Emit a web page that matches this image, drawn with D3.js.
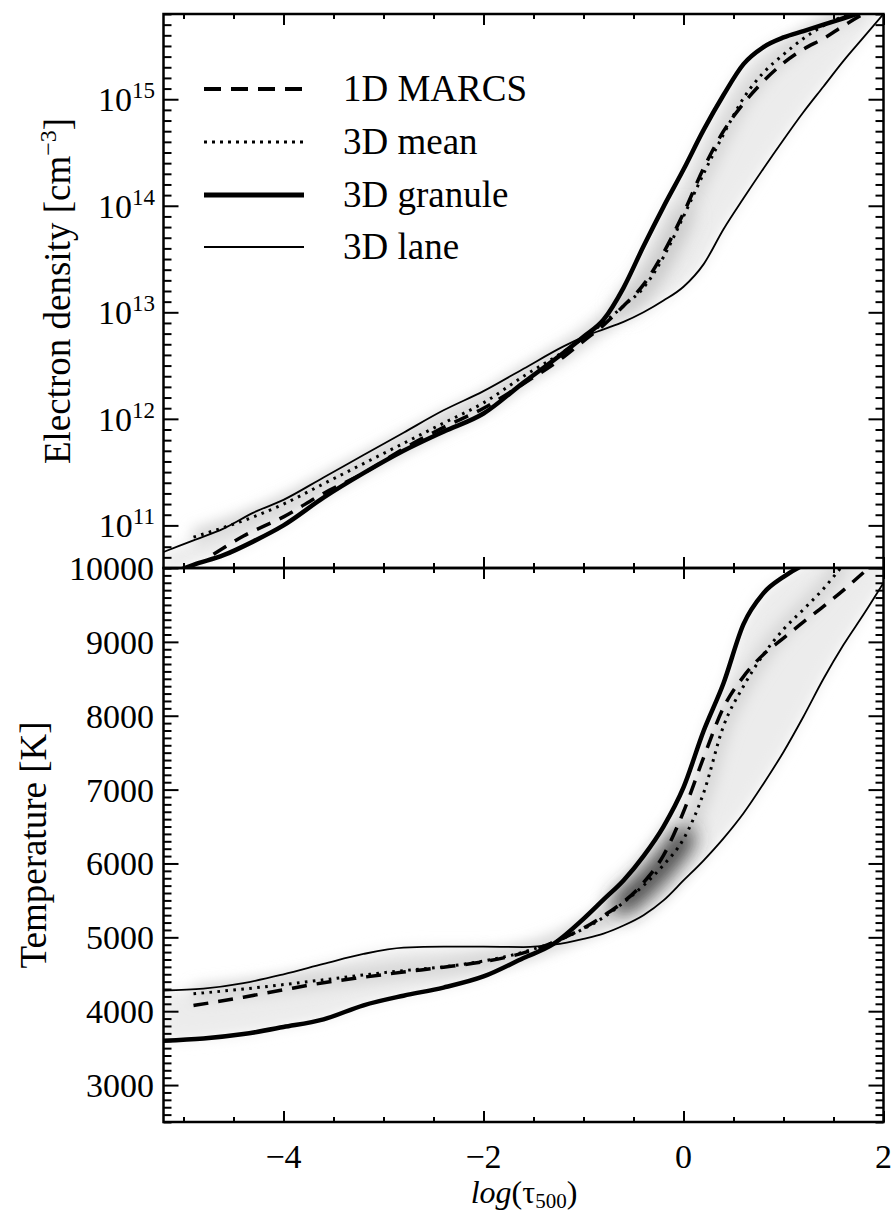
<!DOCTYPE html>
<html>
<head>
<meta charset="utf-8">
<script src="https://cdn.jsdelivr.net/npm/d3@7"></script>
<style>
body{margin:0;background:#fff}
text{font-family:"Liberation Serif","DejaVu Serif",serif;fill:#000}
</style>
</head>
<body>
<div id="chart"></div>
<script>
// ---- electron density panel, log10(ne) vs log(tau500)
const tauTop = [-5.2,-4.9,-4.6,-4.3,-4.0,-3.6,-3.2,-2.8,-2.4,-2.0,-1.6,-1.2,-1.0,-0.8,-0.6,-0.4,-0.2,0,0.2,0.4,0.6,0.8,1.0,1.2,1.4,1.6,1.8,2.0]
const laneNe = [10.75,10.86,10.97,11.12,11.24,11.45,11.66,11.87,12.08,12.26,12.47,12.68,12.77,12.84,12.91,13.00,13.11,13.24,13.45,13.78,14.07,14.35,14.62,14.88,15.12,15.36,15.58,15.80]
const granuleNe = [10.52,10.63,10.72,10.85,11.00,11.26,11.49,11.70,11.88,12.05,12.34,12.62,12.77,12.93,13.23,13.62,13.99,14.34,14.71,15.04,15.33,15.49,15.58,15.64,15.70,15.76,15.82,15.88]
const tauTopMean = [-4.9,-4.6,-4.3,-4.0,-3.6,-3.2,-2.8,-2.4,-2.0,-1.6,-1.2,-1.0,-0.8,-0.6,-0.4,-0.2,0,0.2,0.4,0.6,0.8,1.0,1.2,1.4,1.6,1.8]
const meanNe = [10.89,10.98,11.08,11.20,11.39,11.58,11.77,11.96,12.15,12.40,12.63,12.76,12.90,13.06,13.23,13.52,13.90,14.30,14.67,15.01,15.25,15.42,15.57,15.69,15.78,15.86]
const tauTopMarcs = [-4.7,-4.4,-4.0,-3.6,-3.2,-2.8,-2.4,-2.0,-1.6,-1.2,-1.0,-0.8,-0.6,-0.4,-0.2,0,0.2,0.4,0.6,0.8,1.0,1.2,1.4,1.6,1.8,2.0]
const marcsNe = [10.73,10.90,11.08,11.30,11.49,11.72,11.92,12.10,12.33,12.58,12.73,12.88,13.06,13.26,13.56,13.93,14.35,14.70,14.96,15.17,15.34,15.47,15.57,15.69,15.80,15.90]

// ---- temperature panel, T [K] vs log(tau500)
const tauBot = [-5.2,-4.8,-4.4,-4.0,-3.6,-3.2,-2.8,-2.4,-2.0,-1.6,-1.3,-1.0,-0.8,-0.6,-0.4,-0.2,0,0.2,0.4,0.6,0.8,1.0,1.2,1.4,1.6,1.8,2.0]
const laneT = [4280,4305,4380,4500,4640,4775,4860,4875,4873,4868,4900,4980,5050,5160,5300,5500,5770,6040,6340,6680,7080,7510,7990,8500,8960,9370,9800]
const granuleT = [3600,3630,3690,3785,3890,4080,4210,4320,4470,4720,4910,5250,5510,5770,6100,6500,7030,7790,8440,9240,9660,9880,10040,10150,10250,10350,10450]
const tauBotMean = [-4.9,-4.4,-4.0,-3.6,-3.2,-2.8,-2.4,-2.0,-1.6,-1.2,-0.8,-0.6,-0.4,-0.2,0,0.2,0.4,0.6,0.8,1.0,1.2,1.4,1.6]
const meanT = [4235,4300,4360,4425,4490,4550,4600,4680,4800,4990,5270,5470,5700,5980,6330,6950,7860,8400,8830,9170,9440,9720,10050]
const tauBotMarcs = [-4.9,-4.4,-4.0,-3.6,-3.2,-2.8,-2.4,-2.0,-1.6,-1.2,-0.8,-0.4,-0.2,0,0.2,0.4,0.6,0.8,1.0,1.2,1.4,1.6,1.8]
const marcsT = [4077,4190,4290,4385,4460,4530,4595,4670,4790,4990,5290,5740,6110,6700,7430,8110,8530,8830,9050,9270,9480,9700,9940]

// darkest part of the 3D histogram (log tau range along the mean curve)
const topCore = [-0.7, 0.1]
const botCore = [-0.6, 0.0]

const xTicks = [-4,-2,0,2]
const neTicks = [11,12,13,14,15]
const tTicks = [3000,4000,5000,6000,7000,8000,9000,10000]
const legendNames = ["1D MARCS","3D mean","3D granule","3D lane"]

const W = 895, H = 1213
const left = 163.5, right = 883.5
const topY0 = 14, midY = 568, botY1 = 1122

const x = d3.scaleLinear().domain([-5.2,2]).range([left,right])
const yNe = d3.scaleLinear().domain([10.6,15.8]).range([midY,topY0])
const yT = d3.scaleLinear().domain([2500,10000]).range([botY1,midY])

const svg = d3.select("#chart").append("svg").attr("width",W).attr("height",H)
svg.append("rect").attr("width",W).attr("height",H).attr("fill","#fff")
const defs = svg.append("defs")
;[["blur4",4],["blur7",7],["blur10",10]].forEach(([id,s])=>{
  defs.append("filter").attr("id",id).attr("filterUnits","userSpaceOnUse")
   .attr("x",0).attr("y",0).attr("width",W).attr("height",H)
   .append("feGaussianBlur").attr("stdDeviation",s)
})

// line styles (curves, legend)
const styles = [
  {w:3.5, dash:"15,10", lw:4, ldash:"17,10"},   // MARCS
  {w:3, dash:"2.6,5.4", lw:3.2, ldash:"3,5"},   // mean
  {w:4.5, dash:null, lw:5, ldash:null},         // granule
  {w:1.8, dash:null, lw:2, ldash:null}          // lane
]

const panels = [
  {id:"ne", y:yNe, top:topY0, bottom:midY, tau:tauTop, lane:laneNe, gran:granuleNe,
   tauMean:tauTopMean, mean:meanNe, tauMarcs:tauTopMarcs, marcs:marcsNe, core:topCore, coreColor:"#c4c4c4", coreW:14},
  {id:"t", y:yT, top:midY, bottom:botY1, tau:tauBot, lane:laneT, gran:granuleT,
   tauMean:tauBotMean, mean:meanT, tauMarcs:tauBotMarcs, marcs:marcsT, core:botCore, coreColor:"#3a3a3a", coreW:22}
]

panels.forEach(p=>{
  defs.append("clipPath").attr("id","clip-"+p.id).append("rect")
    .attr("x",left).attr("y",p.top).attr("width",right-left).attr("height",p.bottom-p.top)
  const g = svg.append("g").attr("clip-path",`url(#clip-${p.id})`)
  const line = d3.line().x(d=>x(d[0])).y(d=>p.y(d[1])).curve(d3.curveMonotoneX)

  // grey histogram shading between lane and granule
  const band = p.tau.map((t,i)=>[t,p.lane[i],p.gran[i]])
  g.append("path").datum(band)
    .attr("d",d3.area().x(d=>x(d[0])).y0(d=>p.y(d[1])).y1(d=>p.y(d[2])).curve(d3.curveMonotoneX))
    .attr("fill","#ececec").attr("filter","url(#blur7)")
  const meanPts = p.tauMean.map((t,i)=>[t,p.mean[i]])
  g.append("path").datum(meanPts).attr("d",line)
    .attr("fill","none").attr("stroke","#d6d6d6").attr("stroke-width",16).attr("filter","url(#blur7)")
  const core = meanPts.filter(d=>d[0]>=p.core[0] && d[0]<=p.core[1])
  g.append("path").datum(core).attr("d",line)
    .attr("fill","none").attr("stroke",p.coreColor).attr("stroke-width",p.coreW)
    .attr("stroke-linecap","round").attr("filter","url(#blur10)")

  const series = [
    p.tauMarcs.map((t,i)=>[t,p.marcs[i]]),
    meanPts,
    p.tau.map((t,i)=>[t,p.gran[i]]),
    p.tau.map((t,i)=>[t,p.lane[i]])
  ]
  ;[3,2,0,1].forEach(k=>{
    g.append("path").datum(series[k]).attr("d",line)
     .attr("fill","none").attr("stroke","#000").attr("stroke-width",styles[k].w)
     .attr("stroke-dasharray",styles[k].dash)
  })

  // ticks on all four sides
  const xMinor = d3.range(-5,2.01,0.5).filter(v=>!xTicks.includes(v))
  const yMajor = p.id=="ne" ? neTicks : tTicks
  const yMinor = p.id=="ne"
    ? d3.range(106,159).map(v=>v/10).filter(v=>!neTicks.includes(v))
    : d3.range(2500,10001,100).filter(v=>v%1000)
  const ax = (fn,scale,vals,size,tx,ty)=>{
    svg.append("g").attr("transform",`translate(${tx},${ty})`)
      .call(fn(scale).tickValues(vals).tickSize(size).tickFormat(""))
      .call(s=>s.select(".domain").remove())
      .selectAll("line").attr("stroke","#000").attr("stroke-width",2)
  }
  ax(d3.axisBottom,x,xTicks,11,0,p.top); ax(d3.axisBottom,x,xMinor,5,0,p.top)
  ax(d3.axisTop,x,xTicks,11,0,p.bottom); ax(d3.axisTop,x,xMinor,5,0,p.bottom)
  ax(d3.axisRight,p.y,yMajor,15,left,0); ax(d3.axisRight,p.y,yMinor,8,left,0)
  ax(d3.axisLeft,p.y,yMajor,15,right,0); ax(d3.axisLeft,p.y,yMinor,8,right,0)

  svg.append("rect").attr("x",left).attr("y",p.top).attr("width",right-left).attr("height",p.bottom-p.top)
    .attr("fill","none").attr("stroke","#000").attr("stroke-width",2.5)
})

// y tick labels
svg.selectAll(".neLab").data(neTicks).enter().append("text")
  .attr("x",155).attr("y",d=>yNe(d)+12).attr("text-anchor","end").style("font-size","34px")
  .each(function(d){
    const t = d3.select(this)
    t.append("tspan").text("10")
    t.append("tspan").attr("dy",-13).style("font-size","23px").text(d)
  })
svg.selectAll(".tLab").data(tTicks).enter().append("text")
  .attr("x",154).attr("y",d=>yT(d)+12).attr("text-anchor","end").style("font-size","34px")
  .text(d=>d)

// x tick labels
svg.selectAll(".xLab").data(xTicks).enter().append("text")
  .attr("x",d=>x(d)).attr("y",1168).attr("text-anchor","middle").style("font-size","34px")
  .text(d=>d<0 ? "\u2212"+Math.abs(d) : d)

// axis titles
const xt = svg.append("text").attr("x",524).attr("y",1203).attr("text-anchor","middle").style("font-size","32px")
xt.append("tspan").style("font-style","italic").text("log")
xt.append("tspan").text("(\u03c4")
xt.append("tspan").attr("dy",5).style("font-size","21px").text("500")
xt.append("tspan").attr("dy",-5).text(")")

const yt1 = svg.append("text").attr("transform",`translate(70,${(topY0+midY)/2}) rotate(-90)`)
  .attr("text-anchor","middle").style("font-size","37px")
yt1.append("tspan").text("Electron density [cm")
yt1.append("tspan").attr("dy",-14).style("font-size","24px").text("\u22123")
yt1.append("tspan").attr("dy",14).text("]")

svg.append("text").attr("transform",`translate(46,${(midY+botY1)/2}) rotate(-90)`)
  .attr("text-anchor","middle").style("font-size","37px").text("Temperature [K]")

// legend
const legY = [89,142,195,247]
legendNames.forEach((name,i)=>{
  svg.append("line").attr("x1",204).attr("x2",304).attr("y1",legY[i]).attr("y2",legY[i])
    .attr("stroke","#000").attr("stroke-width",styles[i].lw).attr("stroke-dasharray",styles[i].ldash)
  svg.append("text").attr("x",343).attr("y",legY[i]+12).style("font-size","37px").text(name)
})
</script>
</body>
</html>
